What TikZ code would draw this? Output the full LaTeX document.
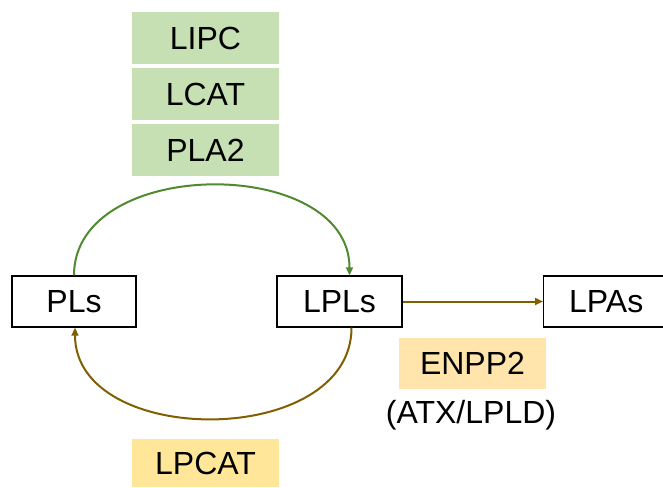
\documentclass[tikz,border=0pt]{standalone}
\usepackage{fontspec}
\setmainfont{Liberation Sans}
\usetikzlibrary{arrows.meta}
\definecolor{gfill}{HTML}{C6E0B4}
\definecolor{yfill}{HTML}{FFE699}
\definecolor{ofill}{HTML}{FFE5AC}
\definecolor{garrow}{HTML}{4F8A2E}
\definecolor{barrow}{HTML}{7F5F00}
\tikzset{
  txt/.style={font=\fontsize{32}{37}\selectfont, inner sep=0pt},
  wbox/.style={txt, draw=black, line width=1.4pt, fill=white},
  enz/.style={txt},
  conn/.style={line width=2pt, -{Triangle[length=8pt,width=7pt]}},
}
\begin{document}
\begin{tikzpicture}[x=1pt,y=-1pt]
\useasboundingbox (0,0) rectangle (663,487);
% boxes
\node[wbox, minimum width=124pt, minimum height=51pt] (pls) at (74,301.5) {PLs};
\node[wbox, minimum width=125pt, minimum height=51pt] (lpls) at (339.5,301.5) {LPLs};
\node[wbox, minimum width=125pt, minimum height=51pt, anchor=west] (lpas) at (543,301.5) {LPAs};
% enzymes
\node[enz, fill=gfill, minimum width=147pt, minimum height=52pt] (lipc) at (205.5,38) {LIPC};
\node[enz, fill=gfill, minimum width=147pt, minimum height=52pt] (lcat) at (205.5,94) {LCAT};
\node[enz, fill=gfill, minimum width=147pt, minimum height=52pt] (pla) at (205.5,150) {PLA2};
\node[enz, fill=yfill, minimum width=147pt, minimum height=48pt] (lpcat) at (205.5,463) {LPCAT};
\node[enz, fill=ofill, minimum width=147pt, minimum height=51pt] (enpp) at (472.5,363.5) {ENPP2};
\node[enz] (atx) at (471,415) {(ATX/LPLD)};
% connectors
\draw[conn, draw=garrow] (pls.north) .. controls ([yshift=120pt]pls.north) and ([xshift=10pt,yshift=120pt]lpls.north) .. ([xshift=10pt]lpls.north);
\draw[conn, draw=barrow] ([xshift=12pt]lpls.south) .. controls ([xshift=12pt,yshift=-121pt]lpls.south) and ([xshift=1pt,yshift=-121pt]pls.south) .. ([xshift=1pt]pls.south);
\draw[conn, draw=barrow] (lpls.east) -- (lpas.west);
\end{tikzpicture}
\end{document}
